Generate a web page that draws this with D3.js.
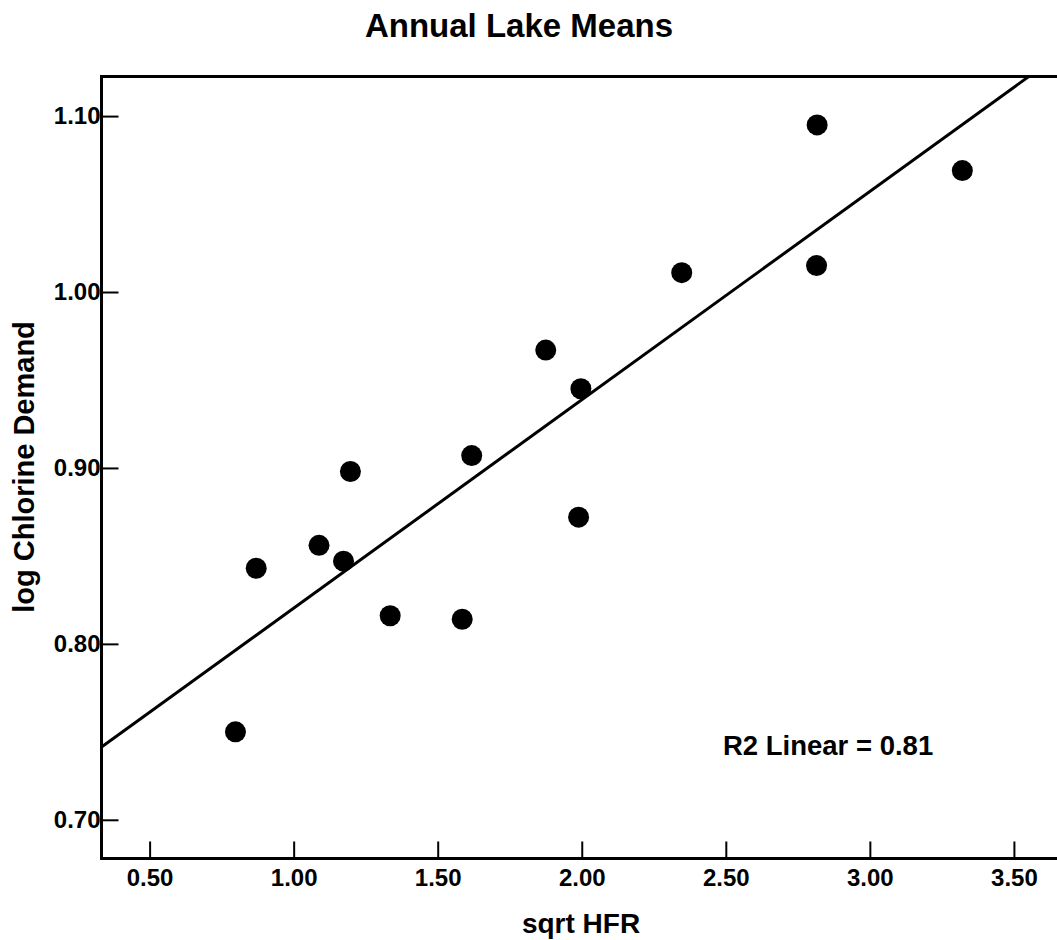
<!DOCTYPE html>
<html>
<head>
<meta charset="utf-8">
<script src="https://cdn.jsdelivr.net/npm/d3@7"></script>
<style>
  body { margin: 0; background: #fff; }
  text { font-family: "Liberation Sans", Arial, sans-serif; font-weight: bold; fill: #000; }
</style>
</head>
<body>
<div id="chart"></div>
<script>
// lake means
var sqrtHFR = [0.798, 0.870, 1.088, 1.173, 1.197, 1.335, 1.585, 1.618, 1.875, 1.997, 1.989, 2.347, 2.815, 2.817, 3.321]
var logChlorine = [0.750, 0.843, 0.856, 0.847, 0.898, 0.816, 0.814, 0.907, 0.967, 0.945, 0.872, 1.011, 1.015, 1.095, 1.069]

var xTicks = [0.5, 1.0, 1.5, 2.0, 2.5, 3.0, 3.5]
var yTicks = [0.7, 0.8, 0.9, 1.0, 1.1]

var xDomain = [0.333, 3.66]
var yDomain = [0.678, 1.1225]

var width = 1057, height = 940
var plot = {left: 101.5, top: 76.5, right: 1060, bottom: 858.5}

var svg = d3.select("#chart").append("svg")
    .attr("width", width)
    .attr("height", height)

var x = d3.scaleLinear().domain(xDomain).range([plot.left, plot.right])
var y = d3.scaleLinear().domain(yDomain).range([plot.bottom, plot.top])

svg.append("defs").append("clipPath").attr("id", "plotClip")
  .append("rect")
    .attr("x", plot.left).attr("y", plot.top)
    .attr("width", plot.right - plot.left).attr("height", plot.bottom - plot.top)

// axes, ticks point inward
var xAxis = d3.axisBottom(x).tickValues(xTicks).tickFormat(d3.format(".2f"))
    .tickSizeInner(-17).tickSizeOuter(0).tickPadding(10)
var yAxis = d3.axisLeft(y).tickValues(yTicks).tickFormat(d3.format(".2f"))
    .tickSizeInner(-17).tickSizeOuter(0).tickPadding(1)

var gx = svg.append("g").attr("transform", "translate(0," + plot.bottom + ")").call(xAxis)
var gy = svg.append("g").attr("transform", "translate(" + plot.left + ",0)").call(yAxis)
svg.selectAll(".domain").remove()
svg.selectAll(".tick line").attr("stroke", "#000").attr("stroke-width", 2)
svg.selectAll(".tick text")
    .style("font-family", "'Liberation Sans', Arial, sans-serif")
    .style("font-weight", "bold")
    .style("font-size", "24px")
    .attr("fill", "#000")

// frame (right side runs off the picture)
svg.append("path")
    .attr("d", "M" + plot.right + "," + plot.top + "H" + plot.left + "V" + plot.bottom + "H" + plot.right)
    .attr("fill", "none")
    .attr("stroke", "#000")
    .attr("stroke-width", 3)

// least squares fit
var mx = d3.mean(sqrtHFR), my = d3.mean(logChlorine)
var sxy = d3.sum(sqrtHFR, function(v, i){ return (v - mx) * (logChlorine[i] - my) })
var sxx = d3.sum(sqrtHFR, function(v){ return (v - mx) * (v - mx) })
var slope = sxy / sxx
var intercept = my - slope * mx

svg.append("line")
    .attr("clip-path", "url(#plotClip)")
    .attr("x1", x(xDomain[0])).attr("y1", y(intercept + slope * xDomain[0]))
    .attr("x2", x(xDomain[1])).attr("y2", y(intercept + slope * xDomain[1]))
    .attr("stroke", "#000")
    .attr("stroke-width", 3)

svg.selectAll(".dot")
  .data(sqrtHFR)
  .enter()
  .append("circle")
    .attr("class", "dot")
    .attr("cx", function(d){ return x(d) })
    .attr("cy", function(d, i){ return y(logChlorine[i]) })
    .attr("r", 10.5)
    .attr("fill", "#000")

// labels
svg.append("text").text("Annual Lake Means")
    .attr("x", 519).attr("y", 37)
    .attr("text-anchor", "middle")
    .style("font-size", "33px")

svg.append("text").text("sqrt HFR")
    .attr("x", 581).attr("y", 933)
    .attr("text-anchor", "middle")
    .style("font-size", "28px")

svg.append("text").text("log Chlorine Demand")
    .attr("transform", "translate(34,467) rotate(-90)")
    .attr("text-anchor", "middle")
    .style("font-size", "29px")

svg.append("text").text("R2 Linear = 0.81")
    .attr("x", 723).attr("y", 755)
    .style("font-size", "27.5px")
</script>
</body>
</html>
